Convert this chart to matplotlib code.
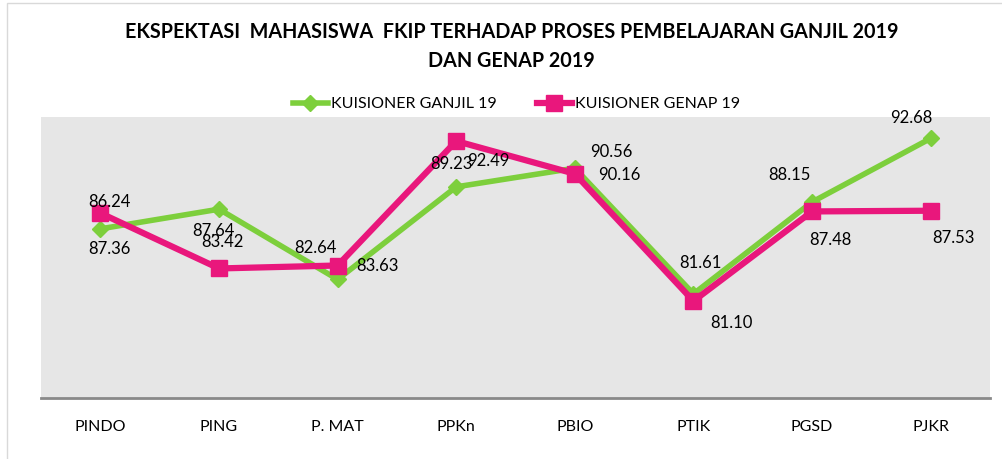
import matplotlib
matplotlib.use("Agg")
import matplotlib.pyplot as plt
from matplotlib.patches import Rectangle

plt.rcParams['font.family'] = ['Lato', 'DejaVu Sans']

# data
kategori = ['PINDO', 'PING', 'P. MAT', 'PPKn', 'PBIO', 'PTIK', 'PGSD', 'PJKR']
ganjil = [86.24, 87.64, 82.64, 89.23, 90.56, 81.61, 88.15, 92.68]
genap = [87.36, 83.42, 83.63, 92.49, 90.16, 81.10, 87.48, 87.53]

# posisi label (offset piksel dari titik)
off_ganjil = [(9, 27), (-6, -22), (-22, 31), (-5, 23), (36, 16), (7, 31), (-23, 27), (-19, 20)]
off_genap = [(9, -36), (3, 26), (40, 0), (32, -20), (44, -1), (38, -22), (18, -29), (23, -27)]

hijau = '#7DCF3C'
pink = '#E9177C'

fig = plt.figure(figsize=(10.03, 4.59), dpi=100)
ax = fig.add_axes([0.041, 0.133, 0.946, 0.612])
ax.set_facecolor('#E6E6E6')

x = range(len(kategori))
ax.plot(x, ganjil, color=hijau, lw=4, marker='D', ms=8, label='KUISIONER GANJIL 19', zorder=3)
ax.plot(x, genap, color=pink, lw=4.5, marker='s', ms=11, label='KUISIONER GENAP 19', zorder=4)

for i in x:
    ax.annotate(f'{ganjil[i]:.2f}', (i, ganjil[i]), xytext=off_ganjil[i], textcoords='offset pixels',
                ha='center', va='center', fontsize=12, zorder=5)
    ax.annotate(f'{genap[i]:.2f}', (i, genap[i]), xytext=off_genap[i], textcoords='offset pixels',
                ha='center', va='center', fontsize=12, zorder=5)

ax.set_xlim(-0.5, 7.5)
ax.set_ylim(74.2, 94.2)
ax.set_xticks(list(x))
ax.set_xticklabels(kategori, fontsize=11.5)
ax.tick_params(axis='x', length=0, pad=16)
ax.set_yticks([])
for s in ['top', 'right', 'left']:
    ax.spines[s].set_visible(False)
ax.spines['bottom'].set_color('#898989')
ax.spines['bottom'].set_linewidth(2)

fig.text(0.51, 0.93, 'EKSPEKTASI  MAHASISWA  FKIP TERHADAP PROSES PEMBELAJARAN GANJIL 2019',
         ha='center', va='center', fontsize=14.2, fontweight='bold')
fig.text(0.51, 0.868, 'DAN GENAP 2019', ha='center', va='center', fontsize=14.2, fontweight='bold')

fig.legend(loc='center', bbox_to_anchor=(0.515, 0.773), ncol=2, frameon=False, fontsize=11.5,
           handlelength=2.2, columnspacing=2.5, handletextpad=0.2)

fig.patches.append(Rectangle((0.007, -0.01), 1.0, 1.003, transform=fig.transFigure,
                             fill=False, edgecolor='#D9D9D9', lw=1))

fig.savefig('out.png', dpi=100)
